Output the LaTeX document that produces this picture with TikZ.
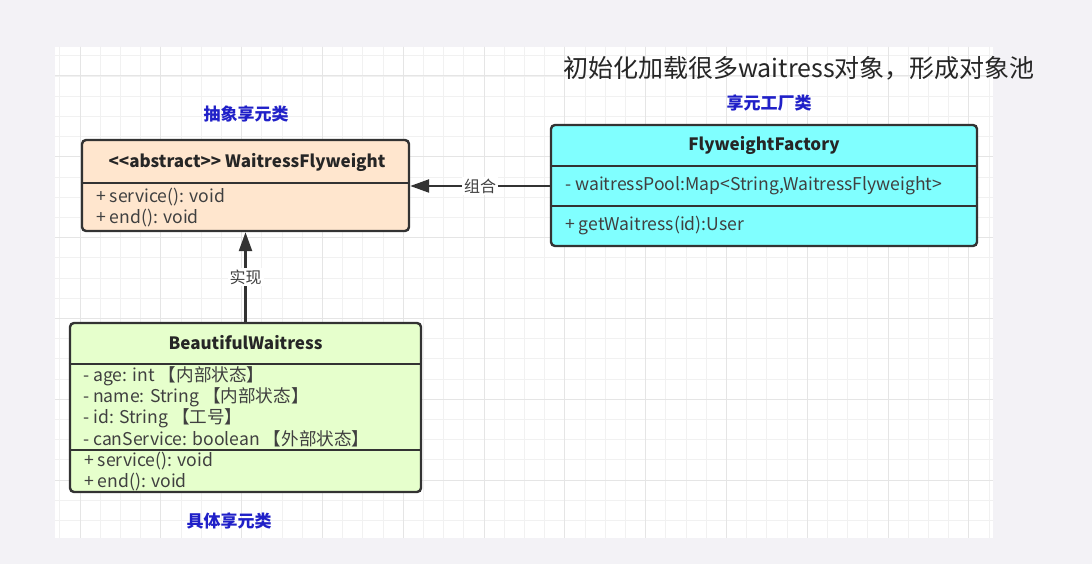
\documentclass[tikz,border=0pt]{standalone}
\usepackage{fontspec}
\setmainfont{Noto Sans CJK SC}
\usetikzlibrary{arrows.meta,positioning}
\definecolor{pagegray}{RGB}{243,242,246}
\definecolor{gridminor}{RGB}{241,241,241}
\definecolor{gridmajor}{RGB}{229,229,229}
\definecolor{absfill}{RGB}{255,230,206}
\definecolor{facfill}{RGB}{128,255,255}
\definecolor{bwfill}{RGB}{230,255,204}
\definecolor{lineclr}{RGB}{51,51,51}
\definecolor{textclr}{RGB}{64,64,64}
\definecolor{tagblue}{RGB}{32,32,200}

\tikzset{
  classbox/.style={draw=lineclr, line width=2.4pt, rounded corners=4pt, inner sep=0pt},
  classline/.style={draw=lineclr, line width=2.2pt},
  head/.style={font=\fontsize{17}{19}\selectfont\bfseries, text=black!85, inner sep=0pt},
  member/.style={font=\fontsize{17.6}{19}\selectfont, text=textclr, anchor=west, inner sep=0pt},
  tag/.style={font=\fontsize{17}{19}\selectfont\bfseries, text=tagblue, inner sep=0pt},
  relarrow/.style={draw=lineclr, line width=2.4pt, -{Triangle[length=19pt,width=13pt]}},
  rellabel/.style={fill=white, font=\fontsize{16}{18}\selectfont, text=textclr, inner sep=2pt},
}

\begin{document}
\begin{tikzpicture}[x=1pt,y=-1pt]
    \fill[pagegray] (0,0) rectangle (1092,564);
    \useasboundingbox (0,0) rectangle (1092,564);
    \fill[white] (55,47) rectangle (993,538);

    % grid paper
    \begin{scope}
        \clip (55,47) rectangle (993,538);
        \foreach \i in {-2,...,47}
            \draw[gridminor, line width=0.8pt] (80+20.2*\i,47) -- (80+20.2*\i,538);
        \foreach \j in {-2,...,24}
            \draw[gridminor, line width=0.8pt] (55,76+20.2*\j) -- (993,76+20.2*\j);
        \foreach \i in {0,...,11}
            \draw[gridmajor, line width=1pt] (80+80.8*\i,47) -- (80+80.8*\i,538);
        \foreach \j in {0,...,5}
            \draw[gridmajor, line width=1pt] (55,76+80.8*\j) -- (993,76+80.8*\j);
    \end{scope}

    \node[font=\fontsize{25}{29}\selectfont, text=black!85] (title) at (799,68) {初始化加载很多waitress对象，形成对象池};

    % abstract flyweight
    \node[tag] (absTag) at (246,114) {抽象享元类};
    \node[classbox, fill=absfill, minimum width=327, minimum height=91] (abs) at (245.5,185.5) {};
    \node[head] (absName) at (247,162) {<{}<abstract>{}> WaitressFlyweight};
    \draw[classline] (abs.west |- 0,183) -- (abs.east |- 0,183);
    \node[member] (absOp1) at (96,197) {+ service(): void};
    \node[member] (absOp2) at (96,218) {+ end(): void};

    % factory
    \node[tag] (facTag) at (769,103) {享元工厂类};
    \node[classbox, fill=facfill, minimum width=426, minimum height=121] (fac) at (764,185.5) {};
    \node[head] (facName) at (764,145) {FlyweightFactory};
    \draw[classline] (fac.west |- 0,166) -- (fac.east |- 0,166);
    \draw[classline] (fac.west |- 0,206) -- (fac.east |- 0,206);
    \node[member] (facAttr) at (565,186) {- waitressPool:Map<String,WaitressFlyweight>};
    \node[member] (facOp) at (565,226) {+ getWaitress(id):User};

    % concrete flyweight
    \node[classbox, fill=bwfill, minimum width=351, minimum height=169] (bw) at (245.5,407.5) {};
    \node[head] (bwName) at (245.5,343) {BeautifulWaitress};
    \draw[classline] (bw.west |- 0,364) -- (bw.east |- 0,364);
    \draw[classline] (bw.west |- 0,450) -- (bw.east |- 0,450);
    \node[member] (bwAttr1) at (83,376) {- age: int 【内部状态】};
    \node[member] (bwAttr2) at (83,397) {- name: String 【内部状态】};
    \node[member] (bwAttr3) at (83,418) {- id: String 【工号】};
    \node[member] (bwAttr4) at (83,439) {- canService: boolean 【外部状态】};
    \node[member] (bwOp1) at (84,461) {+ service(): void};
    \node[member] (bwOp2) at (84,482) {+ end(): void};
    \node[tag] (bwTag) at (229,521) {具体享元类};

    % relations
    \draw[relarrow] (fac.west |- facAttr) -- node[rellabel] {组合} (abs.east |- facAttr);
    \draw[relarrow] (bw.north) -- node[rellabel] {实现} (abs.south);
\end{tikzpicture}
\end{document}
